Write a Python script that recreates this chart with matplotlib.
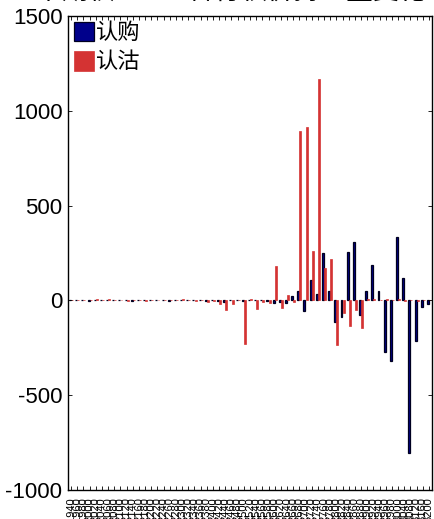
import matplotlib
matplotlib.use("Agg")
import matplotlib.pyplot as plt
import numpy as np

plt.rcParams['font.family'] = ['Liberation Sans', 'Noto Sans CJK SC', 'DejaVu Sans']
plt.rcParams['axes.unicode_minus'] = False

strikes = [str(v) for v in range(1940, 3001, 20)] + ['3040', '3080', '3120', '3160', '3200']

call_change = [0, 1, 0, -1, 0, 1, 0, 0, 1, 0,
               -1, 0, 0, 1, 0, 0, -1, 0, 0, 1,
               0, 0, -2, 0, -4, -10, 0, 0, -3, 0,
               0, 0, -3, -14, -7, -14, 21, 52, -56, 110,
               35, 251, 47, -114, -88, 254, 310, -75, 47, 189,
               47, -274, -321, 333, 117, -807, -216, -35, -21]
put_change = [2, 1, 3, 1, 8, 2, 6, 1, 2, -2,
              1, 2, -5, 1, 2, 1, 2, 1, 6, 2,
              -5, 1, -8, -3, -21, -53, -21, 2, -231, 10,
              -46, -7, -14, 180, -39, 26, -9, 895, 916, 259,
              1170, 170, 216, -237, -67, -135, -53, -146, 10, 8,
              2, 5, 2, 5, -5, 2, -5, 2, 2]

x = np.arange(len(strikes))

fig = plt.figure(figsize=(4.35, 5.19), dpi=100)
ax = fig.add_axes([68/435, 1 - 490/519, 364/435, 474/519])

w = 0.32
ax.bar(x - 0.17, call_change, width=w, color='#00008B', edgecolor='#000020', linewidth=0.9, label='认购')
ax.bar(x + 0.17, put_change, width=w, color='#D43333', edgecolor='#D43333', linewidth=0.5, label='认沽')

ax.set_xlim(-0.5, len(strikes) - 0.5)
ax.set_ylim(-1000, 1500)
ax.set_yticks([-1000, -500, 0, 500, 1000, 1500])
ax.set_yticklabels(['-1000', '-500', '0', '500', '1000', '1500'])
ax.set_xticks(x)
ax.set_xticklabels(strikes, rotation=90, fontsize=8)
ax.tick_params(axis='x', direction='in', length=3, width=0.6, top=True, pad=5)
ax.tick_params(axis='y', direction='in', length=3, width=0.6, right=True, labelsize=16, pad=4)
for s in ax.spines.values():
    s.set_linewidth(1.0)

leg = ax.legend(loc='upper left', frameon=False, fontsize=16, handlelength=0.9, handleheight=1.0,
                handletextpad=0.1, labelspacing=0.3, borderaxespad=0.15, borderpad=0.1)

fig.text(0.5, 1 - 5/519, '玉米期权 2023 各行权价持仓量变化', ha='center', va='bottom', fontsize=19)

fig.savefig('out.png', dpi=100)
